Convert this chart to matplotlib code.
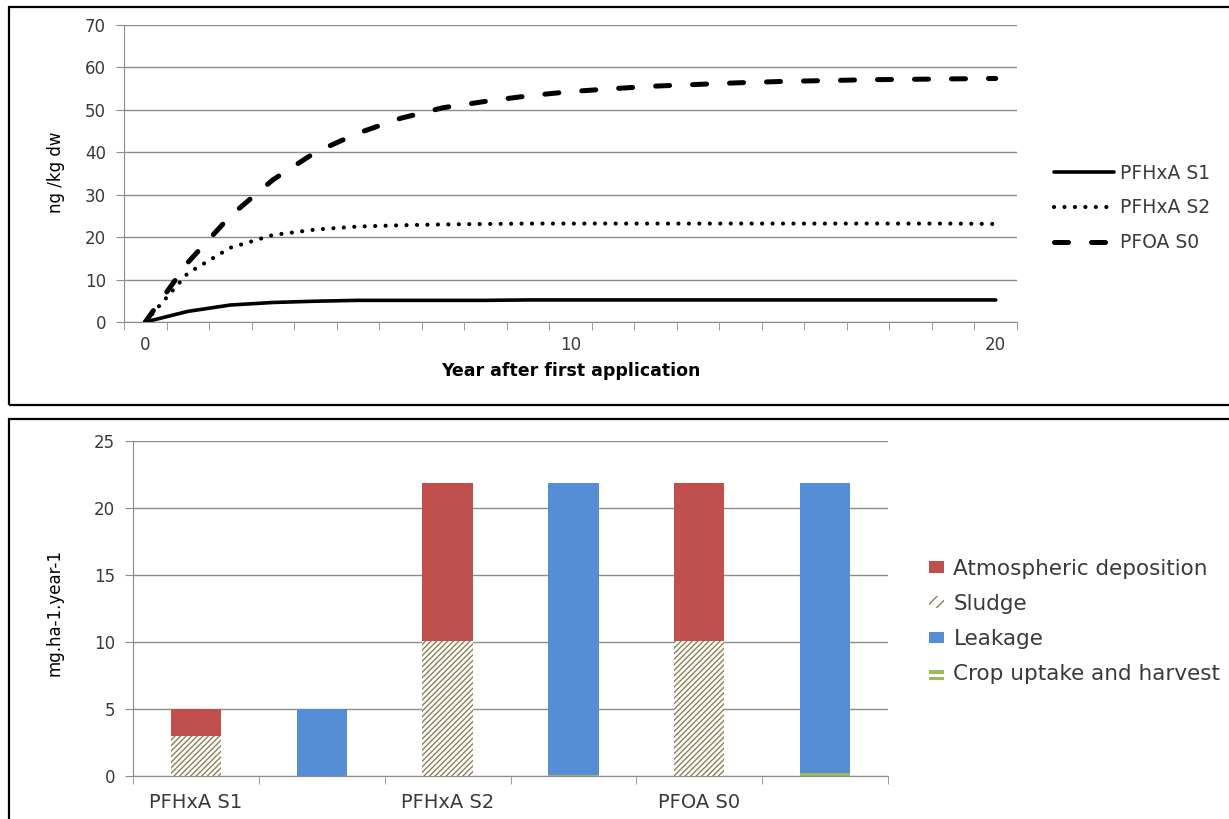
import numpy as np
import matplotlib.pyplot as plt
from matplotlib.patches import Rectangle, Patch
from matplotlib.legend_handler import HandlerBase

plt.rcParams['font.family'] = ['DejaVu Sans']

# top chart: concentration in soil
years = list(range(0, 21))
pfhxa_s1 = [0, 2.5, 4.0, 4.6, 4.9, 5.1, 5.1, 5.1, 5.1, 5.2, 5.2, 5.2, 5.2, 5.2, 5.2,
            5.2, 5.2, 5.2, 5.2, 5.2, 5.2]
pfhxa_s2 = [0, 11.5, 17.5, 20.5, 21.8, 22.5, 22.8, 23.0, 23.1, 23.2, 23.2, 23.2, 23.2,
            23.2, 23.2, 23.2, 23.2, 23.2, 23.2, 23.2, 23.1]
pfoa_s0 = [0, 14.0, 25.0, 33.5, 40.0, 44.5, 48.0, 50.5, 52.0, 53.3, 54.3, 55.0, 55.6,
           56.0, 56.4, 56.7, 56.9, 57.1, 57.2, 57.3, 57.4]

# bottom chart: inputs / outputs per scenario
bar_labels = ['PFHxA S1', '', 'PFHxA S2', '', 'PFOA S0', '']
atmospheric = [2.0, 0, 11.8, 0, 11.8, 0]
sludge = [3.0, 0, 10.1, 0, 10.1, 0]
leakage = [0, 4.98, 0, 21.8, 0, 21.65]
crop = [0, 0.02, 0, 0.1, 0, 0.25]

red = '#c0504d'
blue = '#558ed5'
green = '#9bbb59'
sludge_c = '#8d7f55'
grid_c = '#8c8c8c'
text_c = '#3a3a3a'


class DoubleBar(HandlerBase):
    # "=" shaped legend key for the crop series
    def create_artists(self, legend, orig_handle, xd, yd, width, height, fontsize, trans):
        h = height * 0.3
        r1 = Rectangle((xd, yd + height * 0.85 - h / 2), width, h, facecolor=green,
                       edgecolor='none', transform=trans)
        r2 = Rectangle((xd, yd + height * 0.3 - h / 2), width, h, facecolor=green,
                       edgecolor='none', transform=trans)
        return [r1, r2]


fig = plt.figure(figsize=(12.29, 8.19), dpi=100)
W, H = 1229, 819

# panel frames
fig.patches.append(Rectangle((9 / W, 1 - 405 / H), 1.0, (405 - 7) / H, transform=fig.transFigure,
                             fill=False, edgecolor='black', linewidth=1.6))
fig.patches.append(Rectangle((9 / W, -0.01), 1.0, 1 - 419 / H + 0.01, transform=fig.transFigure,
                             fill=False, edgecolor='black', linewidth=1.6))

# ---- top ----
ax1 = fig.add_axes([124 / W, 1 - 322 / H, (1017 - 124) / W, (322 - 25) / H])
ax1.plot(years, pfhxa_s1, color='black', lw=2.6, solid_capstyle='round', label='PFHxA S1')
ax1.plot(years, pfhxa_s2, color='black', lw=3.0, linestyle=(0, (0.01, 2.5)),
         dash_capstyle='round', label='PFHxA S2')
ax1.plot(years, pfoa_s0, color='black', lw=3.6, linestyle=(0, (2.8, 4.6)),
         dash_capstyle='round', label='PFOA S0')
ax1.set_xlim(-0.5, 20.5)
ax1.set_ylim(0, 70)
ax1.set_yticks(range(0, 71, 10))
ax1.set_xticks([0, 10, 20])
ax1.set_xticks(np.arange(-0.5, 20.6, 1), minor=True)
ax1.tick_params(axis='x', which='major', length=0, pad=10, labelsize=12, labelcolor=text_c)
ax1.tick_params(axis='x', which='minor', length=6, color=grid_c, direction='out')
ax1.tick_params(axis='y', length=6, color=grid_c, labelsize=12, labelcolor=text_c, pad=7)
ax1.grid(axis='y', color=grid_c, lw=1)
ax1.set_axisbelow(True)
for s in ['top', 'right']:
    ax1.spines[s].set_visible(False)
for s in ['left', 'bottom']:
    ax1.spines[s].set_color(grid_c)
ax1.set_ylabel('ng /kg dw', fontsize=12)
ax1.yaxis.set_label_coords(-0.066, 0.505)
ax1.set_xlabel('Year after first application', fontsize=12.5, fontweight='bold', labelpad=6)
ax1.legend(loc='center left', bbox_to_anchor=(1.022, 0.384), frameon=False, fontsize=13.5,
           handlelength=3.25, handletextpad=0.32, labelspacing=0.85, labelcolor=text_c)

# ---- bottom ----
ax2 = fig.add_axes([133 / W, 1 - 776 / H, (888 - 133) / W, (776 - 441) / H])
x = np.arange(len(bar_labels))
bw = 0.4
ax2.bar(x, sludge, bw, color='white', edgecolor=sludge_c, hatch='//////', linewidth=0)
ax2.bar(x, atmospheric, bw, bottom=np.array(sludge), color=red, linewidth=0)
ax2.bar(x, crop, bw, color=green, linewidth=0)
ax2.bar(x, leakage, bw, bottom=np.array(crop), color=blue, linewidth=0)
ax2.set_xlim(-0.5, 5.5)
ax2.set_ylim(0, 25)
ax2.set_yticks(range(0, 26, 5))
ax2.set_xticks(x)
ax2.set_xticklabels(bar_labels)
ax2.set_xticks(np.arange(-0.5, 5.6, 1), minor=True)
ax2.tick_params(axis='x', which='major', length=0, pad=12, labelsize=14, labelcolor=text_c)
ax2.tick_params(axis='x', which='minor', length=6, color=grid_c, direction='out')
ax2.tick_params(axis='y', length=6, color=grid_c, labelsize=12, labelcolor=text_c, pad=7)
ax2.grid(axis='y', color=grid_c, lw=1)
ax2.set_axisbelow(True)
for s in ['top', 'right']:
    ax2.spines[s].set_visible(False)
for s in ['left', 'bottom']:
    ax2.spines[s].set_color(grid_c)
ax2.set_ylabel('mg.ha-1.year-1', fontsize=12)
ax2.yaxis.set_label_coords(-0.0914, 0.488)

crop_key = Patch(facecolor=green, label='Crop uptake and harvest')
handles = [Patch(facecolor=red, label='Atmospheric deposition'),
           Patch(facecolor='white', edgecolor=sludge_c, hatch='///', linewidth=0, label='Sludge'),
           Patch(facecolor=blue, label='Leakage'),
           crop_key]
ax2.legend(handles=handles, loc='center left', bbox_to_anchor=(1.029, 0.461), frameon=False,
           fontsize=15.5, handlelength=0.7, handleheight=0.47, handletextpad=0.42,
           labelspacing=0.7, labelcolor=text_c, handler_map={crop_key: DoubleBar()})

fig.savefig('out.png', dpi=100)
